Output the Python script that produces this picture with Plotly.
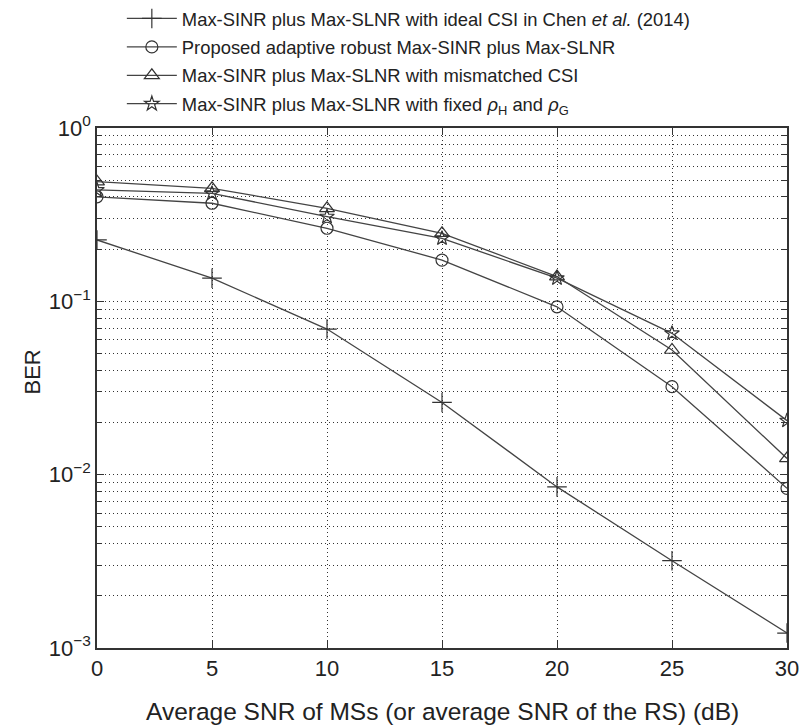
import plotly.graph_objects as go

snr = [0, 5, 10, 15, 20, 25, 30]
ber_ideal = [0.226, 0.136, 0.0692, 0.0261, 0.0085, 0.00319, 0.00122]
ber_proposed = [0.401, 0.368, 0.264, 0.173, 0.093, 0.0322, 0.00834]
ber_mismatched = [0.490, 0.449, 0.344, 0.247, 0.139, 0.0524, 0.0124]
ber_fixed = [0.439, 0.420, 0.308, 0.231, 0.136, 0.0654, 0.0205]

names = [
    "Max-SINR plus Max-SLNR with ideal CSI in Chen <i>et al.</i> (2014)",
    "Proposed adaptive robust Max-SINR plus Max-SLNR",
    "Max-SINR plus Max-SLNR with mismatched CSI",
    "Max-SINR plus Max-SLNR with fixed <i>ρ</i><sub>H</sub> and <i>ρ</i><sub>G</sub>",
]
series = [ber_ideal, ber_proposed, ber_mismatched, ber_fixed]
symbols = ["cross-thin-open", "circle-open", "triangle-up-open", "star-open"]
sizes = [14, 12, 13, 11]

ytickvals = [1e-3, 1e-2, 1e-1, 1]
yticktext = ["10<sup>−3</sup>", "10<sup>−2</sup>", "10<sup>−1</sup>", "10<sup>0</sup>"]
minor_vals = [m * 10.0 ** e for e in (-3, -2, -1) for m in range(2, 10)]

xtitle = "Average SNR of MSs (or average SNR of the RS) (dB)"
ytitle = "BER"

fig = go.Figure()
for i, (nm, ys, sym, sz) in enumerate(zip(names, series, symbols, sizes)):
    fig.add_trace(go.Scatter(
        x=snr, y=ys, name=nm, mode="lines+markers",
        legendgroup=f"g{i}",
        line=dict(color="#444", width=1.3),
        marker=dict(symbol=sym, size=sz, color="#333",
                    line=dict(color="#333", width=1.2)),
    ))

FONT = "Liberation Sans, Arial, sans-serif"
tick_font = dict(family=FONT, size=22, color="#222")
DOT = "1px,3px"

fig.update_layout(
    width=801, height=728,
    margin=dict(l=97, r=14, t=128, b=80),
    paper_bgcolor="white", plot_bgcolor="white",
    font=dict(family=FONT, size=18, color="#222"),
    showlegend=True,
    legend=dict(
        x=0.036, y=1.0, xanchor="left", yanchor="top",
        xref="paper", yref="container",
        bgcolor="rgba(0,0,0,0)",
        font=dict(family=FONT, size=18.4, color="#222"),
        tracegroupgap=1.5,
        itemwidth=50,
    ),
    xaxis=dict(
        range=[0, 30], tickvals=[0, 5, 10, 15, 20, 25, 30],
        showgrid=True, gridcolor="#333", griddash=DOT, gridwidth=1.2,
        showline=True, linecolor="#333", linewidth=1.5, mirror="ticks",
        ticks="inside", ticklen=7, tickcolor="#333",
        tickfont=tick_font, zeroline=False, automargin=False,
    ),
    yaxis=dict(
        type="log", range=[-3, 0],
        tickvals=ytickvals, ticktext=yticktext,
        showgrid=True, gridcolor="#333", griddash=DOT, gridwidth=1.2,
        showline=True, linecolor="#333", linewidth=1.5, mirror="ticks",
        ticks="inside", ticklen=7, tickcolor="#333",
        tickfont=tick_font, zeroline=False, automargin=False,
        minor=dict(tickvals=minor_vals, showgrid=True, gridcolor="#333",
                   griddash=DOT, gridwidth=1.2, ticks="inside", ticklen=5,
                   tickcolor="#333"),
    ),
    annotations=[
        dict(text=xtitle, xref="paper", yref="paper", x=0.5, y=-0.123,
             xanchor="center", yanchor="middle", showarrow=False,
             font=dict(family=FONT, size=24.5, color="#222")),
        dict(text=ytitle, xref="paper", yref="paper", x=-0.094, y=0.53,
             xanchor="center", yanchor="middle", showarrow=False, textangle=-90,
             font=dict(family=FONT, size=22, color="#222")),
    ],
)

fig.write_html("out.html", config={"displayModeBar": False},
               post_script="document.body.style.margin='0';")
